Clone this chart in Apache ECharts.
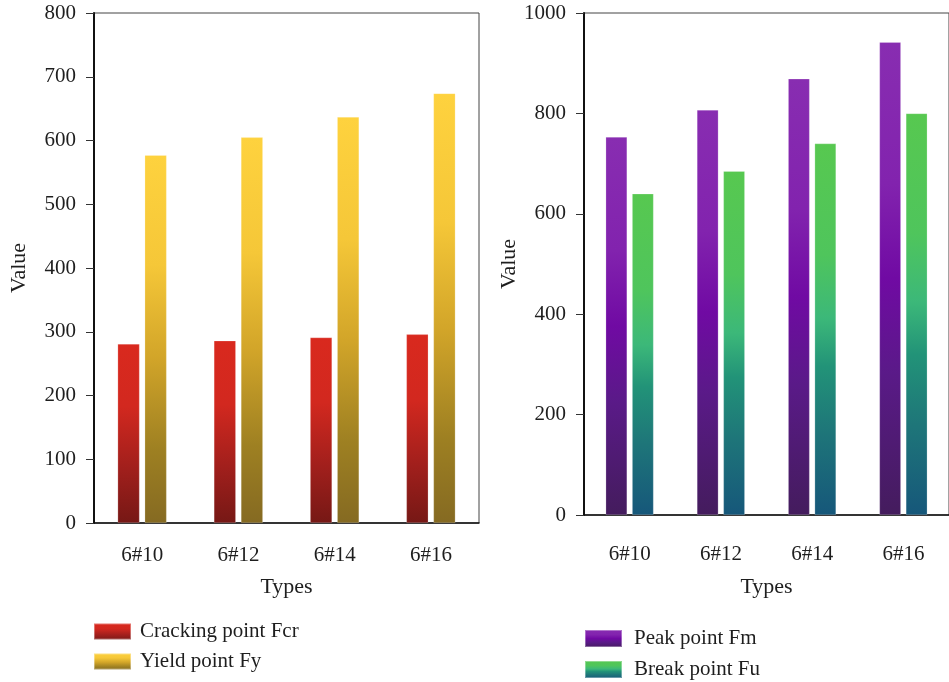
<!DOCTYPE html>
<html>
<head>
<meta charset="utf-8">
<script src="https://cdn.jsdelivr.net/npm/echarts@6/dist/echarts.min.js"></script>
<style>
  html, body { margin: 0; padding: 0; background: #fff; }
  #chart { width: 949px; height: 682px; }
</style>
</head>
<body>
<div id="chart"></div>
<script>
// Specimen types on both panels
const types = ['6#10', '6#12', '6#14', '6#16'];

// Left panel: cracking and yield loads
const crackingFcr = [281, 286, 291, 296];
const yieldFy = [577, 605, 637, 674];

// Right panel: peak and break loads
const peakFm = [753, 807, 869, 942];
const breakFu = [640, 685, 740, 800];

// Value-axis tick ranges
const leftTicks = { min: 0, max: 800, interval: 100 };
const rightTicks = { min: 0, max: 1000, interval: 200 };

const FONT = 'Liberation Serif';
const INK = '#1e1e1e';

function grad(stops) {
  return new echarts.graphic.LinearGradient(0, 0, 0, 1,
    stops.map(s => ({ offset: s[0], color: s[1] })));
}

const redFill = grad([[0, '#d9291e'], [0.35, '#d2281f'], [0.7, '#a01f1c'], [1, '#761815']]);
const yellowFill = grad([[0, '#fed23e'], [0.3, '#f5c738'], [0.55, '#d2a529'], [0.8, '#9e8022'], [1, '#856a22']]);
const purpleFill = grad([[0, '#882db1'], [0.3, '#8223ae'], [0.5, '#700aa3'], [0.7, '#5a1a88'], [1, '#441c5d']]);
const greenFill = grad([[0, '#57c850'], [0.3, '#4fc55c'], [0.47, '#3cb879'], [0.6, '#229378'], [0.78, '#1e7579'], [1, '#16577a']]);

function xAxisFor(gridIndex, labelMargin, nameGap) {
  return {
    type: 'category',
    gridIndex,
    data: types,
    name: 'Types',
    nameLocation: 'middle',
    nameGap,
    nameTextStyle: { fontFamily: FONT, fontSize: 22, color: INK },
    axisLine: { lineStyle: { color: '#111', width: 1.5 } },
    axisTick: { length: 7, lineStyle: { color: '#333', width: 1 } },
    axisLabel: { margin: labelMargin, fontFamily: FONT, fontSize: 21, color: INK }
  };
}

function yAxisFor(gridIndex, ticks, nameGap) {
  return {
    type: 'value',
    gridIndex,
    min: ticks.min,
    max: ticks.max,
    interval: ticks.interval,
    name: 'Value',
    nameLocation: 'middle',
    nameGap,
    nameTextStyle: { fontFamily: FONT, fontSize: 22, color: INK },
    splitLine: { show: false },
    axisLine: { show: true, lineStyle: { color: '#111', width: 2 } },
    axisTick: { show: true, length: 8, lineStyle: { color: '#333', width: 1 } },
    axisLabel: { margin: 18, fontFamily: FONT, fontSize: 21, color: INK, formatter: v => String(v) }
  };
}

function barSeries(name, data, fill, axisIndex, width) {
  return {
    name,
    type: 'bar',
    xAxisIndex: axisIndex,
    yAxisIndex: axisIndex,
    data,
    barWidth: width,
    barGap: '23%',
    itemStyle: { color: fill, borderColor: 'rgba(255,255,255,0.35)', borderWidth: 0.6 }
  };
}

const legendText = { fontFamily: FONT, fontSize: 21, color: INK, lineHeight: 21 };

const option = {
  backgroundColor: '#fff',
  animation: false,
  grid: [
    { left: 94, top: 13, width: 385, height: 510, show: true, borderColor: '#444', borderWidth: 1 },
    { left: 584, top: 13, width: 372, height: 502, show: true, borderColor: '#444', borderWidth: 1 }
  ],
  xAxis: [xAxisFor(0, 22, 53), xAxisFor(1, 29, 61)],
  yAxis: [yAxisFor(0, leftTicks, 64), yAxisFor(1, rightTicks, 62)],
  legend: [
    {
      orient: 'vertical', left: 93, top: 621, padding: 0, itemWidth: 37, itemHeight: 16, itemGap: 9,
      icon: 'rect', data: ['Cracking point Fcr', 'Yield point Fy'],
      textStyle: Object.assign({ padding: [0, 0, 0, 4] }, legendText)
    },
    {
      orient: 'vertical', left: 584, top: 628, padding: 0, height: 60, itemWidth: 37, itemHeight: 17, itemGap: 10,
      icon: 'rect', data: ['Peak point Fm', 'Break point Fu'],
      textStyle: Object.assign({ padding: [0, 0, 0, 7] }, legendText)
    }
  ],
  series: [
    barSeries('Cracking point Fcr', crackingFcr, redFill, 0, 22),
    barSeries('Yield point Fy', yieldFy, yellowFill, 0, 22),
    barSeries('Peak point Fm', peakFm, purpleFill, 1, 21.5),
    barSeries('Break point Fu', breakFu, greenFill, 1, 21.5)
  ]
};

const chart = echarts.init(document.getElementById('chart'), null, { renderer: 'canvas' });
chart.setOption(option);
</script>
</body>
</html>
